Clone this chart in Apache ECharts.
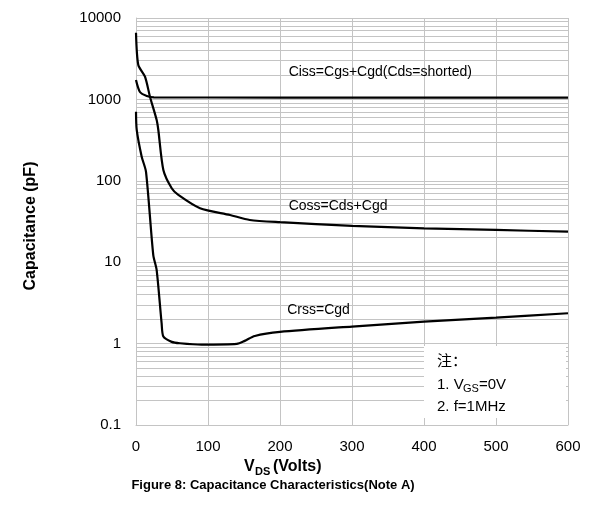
<!DOCTYPE html>
<html>
<head>
<meta charset="utf-8">
<script src="https://cdn.jsdelivr.net/npm/echarts@6/dist/echarts.min.js"></script>
<style>
html,body{margin:0;padding:0;background:#fff;}
#chart{width:595px;height:507px;}
</style>
</head>
<body>
<div id="chart"></div>
<script>
// ---- data (V_DS in volts, capacitance in pF) ----
var cissV = [0, 5.5, 15, 25, 100, 300, 600];
var cissC = [1730, 1233, 1101, 1060, 1055, 1052, 1050];

var cossV = [0, 3.2, 12.5, 19.4, 28.7, 31, 38, 49.6, 58.8, 88.9, 130.6, 158, 200, 300, 400, 500, 600];
var cossC = [6600, 2650, 1900, 1080, 558, 421, 136, 81, 67, 46, 38, 33, 31, 27.9, 26.1, 24.9, 23.7];

var crssV = [0, 1, 7.9, 13.9, 24, 28.7, 35.6, 38, 49.6, 61, 91, 140, 151, 165, 200, 300, 400, 500, 600];
var crssC = [706, 421, 198, 129, 12.2, 8.0, 1.77, 1.22, 1.05, 1.01, 0.97, 0.99, 1.08, 1.24, 1.39, 1.62, 1.86, 2.08, 2.36];

var xTicks = [0, 100, 200, 300, 400, 500, 600];
var yTicks = [0.1, 1, 10, 100, 1000, 10000];
var minorMult = [2, 3, 4, 5, 6, 7, 8, 9];

var curveLabels = ['Ciss=Cgs+Cgd(Cds=shorted)', 'Coss=Cds+Cgd', 'Crss=Cgd'];
var labelAt = [[212, 2170], [212, 49], [210, 2.59]];

function pairs(xs, ys) { return xs.map(function (x, i) { return [x, ys[i]]; }); }

var minorLines = [];
for (var d = 0; d < yTicks.length - 1; d++) {
  minorMult.forEach(function (m) { minorLines.push({ yAxis: +(m * yTicks[d]).toPrecision(6) }); });
}

var gridCol = '#c4c4c4';
var font = 'Arial, "Liberation Sans", sans-serif';

var chart = echarts.init(document.getElementById('chart'), null, { renderer: 'canvas' });

function curve(name, data, idx) {
  return {
    name: name, type: 'line', data: data, showSymbol: false, symbol: 'none',
    smooth: 0.25, z: 5, animation: false,
    lineStyle: { color: '#000', width: 2.2 },
    markPoint: {
      symbol: 'circle', symbolSize: 0, silent: true, animation: false,
      data: [{ coord: labelAt[idx] }],
      label: { show: true, position: 'right', distance: 0, formatter: curveLabels[idx],
        color: '#000', fontSize: 14, fontFamily: font }
    }
  };
}

chart.setOption({
  animation: false,
  backgroundColor: '#fff',
  grid: { left: 136, right: 27, top: 18, bottom: 82, containLabel: false },
  xAxis: {
    type: 'value', min: 0, max: 600, interval: 100,
    axisLine: { show: true, lineStyle: { color: gridCol, width: 1 } },
    axisTick: { show: false },
    splitLine: { show: true, lineStyle: { color: gridCol, width: 1 } },
    axisLabel: { color: '#000', fontSize: 15, fontFamily: font, margin: 14,
      formatter: function (v) { return xTicks.indexOf(v) >= 0 ? String(v) : ''; } }
  },
  yAxis: {
    type: 'log', logBase: 10, min: 0.1, max: 10000,
    axisLine: { show: true, lineStyle: { color: gridCol, width: 1 } },
    axisTick: { show: false },
    splitLine: { show: true, lineStyle: { color: gridCol, width: 1 } },
    axisLabel: { color: '#000', fontSize: 15, fontFamily: font, margin: 15,
      formatter: function (v) {
        for (var i = 0; i < yTicks.length; i++) if (Math.abs(v - yTicks[i]) < yTicks[i] * 1e-6) return String(yTicks[i]);
        return '';
      } }
  },
  series: [
    {
      name: 'minor', type: 'line', data: [], z: 1, silent: true, animation: false,
      markLine: { silent: true, symbol: ['none', 'none'], animation: false,
        label: { show: false }, lineStyle: { color: gridCol, width: 1, type: 'solid' },
        emphasis: { disabled: true },
        data: minorLines }
    },
    curve('Ciss', pairs(cissV, cissC), 0),
    curve('Coss', pairs(cossV, cossC), 1),
    curve('Crss', pairs(crssV, crssC), 2)
  ],
  graphic: [
    { type: 'rect', z: 100, shape: { x: 424, y: 346, width: 142, height: 72 },
      style: { fill: '#fff', stroke: null } },
    { type: 'text', z: 101, left: 437, top: 353,
      style: { text: '注：', font: '15px "Noto Sans CJK SC", sans-serif', fill: '#000' } },
    { type: 'text', z: 101, left: 437, top: 377,
      style: { text: '1. V', font: '15px ' + font, fill: '#000' } },
    { type: 'text', z: 101, left: 463, top: 383,
      style: { text: 'GS', font: '11px ' + font, fill: '#000' } },
    { type: 'text', z: 101, left: 479, top: 377,
      style: { text: '=0V', font: '15px ' + font, fill: '#000' } },
    { type: 'text', z: 101, left: 437, top: 399,
      style: { text: '2. f=1MHz', font: '15px ' + font, fill: '#000' } },
    { type: 'text', z: 101, rotation: Math.PI / 2, x: 31, y: 226,
      style: { text: 'Capacitance (pF)', font: 'bold 16px ' + font, fill: '#000',
        textAlign: 'center', textVerticalAlign: 'middle' } },
    { type: 'text', z: 101, left: 244, top: 459,
      style: { text: 'V', font: 'bold 16px ' + font, fill: '#000' } },
    { type: 'text', z: 101, left: 255, top: 466,
      style: { text: 'DS', font: 'bold 11px ' + font, fill: '#000' } },
    { type: 'text', z: 101, left: 273, top: 459,
      style: { text: '(Volts)', font: 'bold 16px ' + font, fill: '#000' } },
    { type: 'text', z: 101, x: 273, y: 485,
      style: { text: 'Figure 8: Capacitance Characteristics(Note A)', font: 'bold 13px ' + font,
        fill: '#000', textAlign: 'center', textVerticalAlign: 'middle' } }
  ]
});
</script>
</body>
</html>
